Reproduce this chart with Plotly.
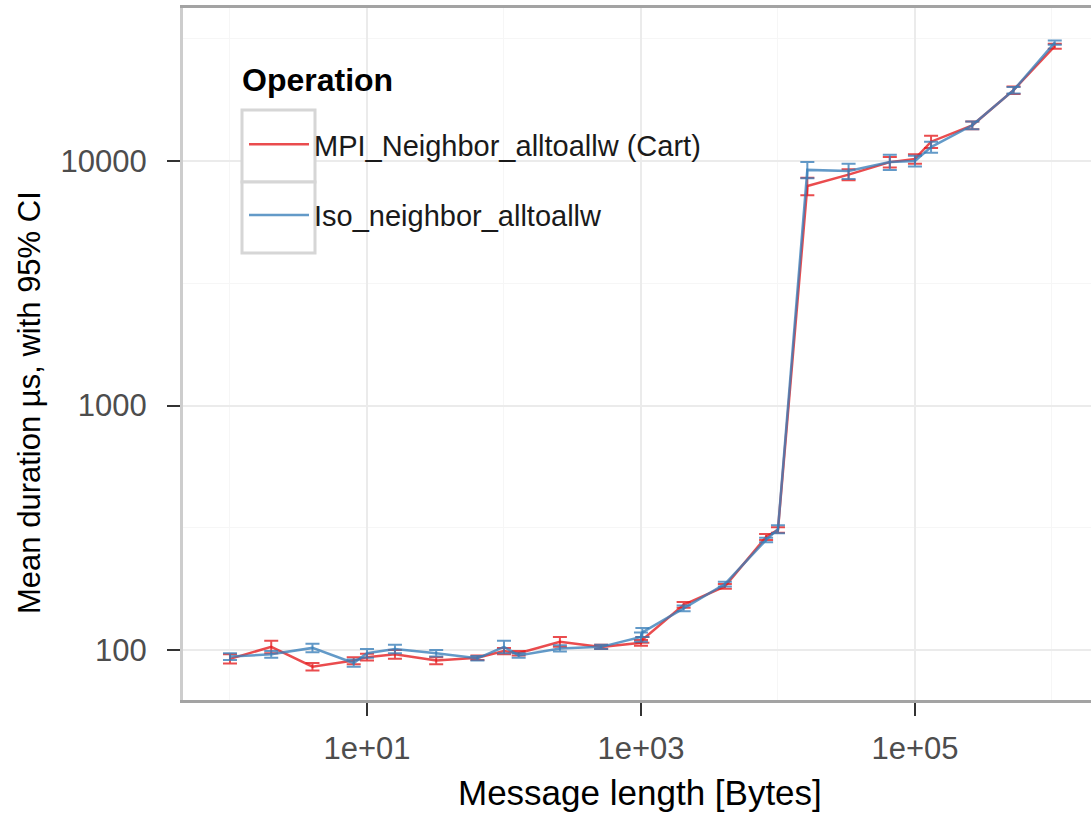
import plotly.graph_objects as go

# ---------------- data ----------------
msg_sizes = [1, 2, 4, 8, 10, 16, 32, 64, 100, 128, 256, 512, 1000, 1024, 2048, 4096,
             8192, 10000, 16384, 32768, 65536, 100000, 131072, 262144, 524288, 1048576]

cart_mean = [92, 103, 85.5, 90.5, 93.5, 96, 90.5, 93, 99, 97, 108, 103, 107, 110, 153, 182,
             290, 310, 7900, 8800, 9900, 10200, 12000, 14000, 19500, 29500]
cart_err = [4, 6, 3, 3, 3, 4, 3, 2, 3, 2, 5, 2, 3, 3, 4, 4,
            8, 8, 650, 450, 500, 450, 700, 500, 700, 700]

iso_mean = [94, 96, 102, 88.5, 97, 101, 97, 92.5, 103, 95, 101.5, 103, 113, 118, 148, 186,
            282, 312, 9200, 9100, 9900, 10000, 11400, 14000, 19500, 30500]
iso_err = [3, 3, 4, 3, 4, 4, 3, 2, 6, 2, 3, 2, 5, 5, 4, 4,
           6, 12, 700, 650, 700, 500, 600, 500, 600, 600]

series_names = ["MPI_Neighbor_alltoallw (Cart)", "Iso_neighbor_alltoallw"]
series_colors = ["rgba(228,26,28,0.78)", "rgba(55,126,184,0.78)"]

x_tickvals = [10, 1000, 100000]
x_ticktext = ["1e+01", "1e+03", "1e+05"]
x_minorvals = [1, 100, 10000, 1000000]
y_tickvals = [100, 1000, 10000]
y_ticktext = ["100", "1000", "10000"]
y_minorvals = [316.227766, 3162.27766, 31622.7766]

legend_title = "Operation"
x_title = "Message length [Bytes]"
y_title = "Mean duration µs, with 95% CI"

# ---------------- layout geometry ----------------
W, H = 1091, 815
L, R, T, B = 183, 0, 8, 115
PW, PH = W - L - R, H - T - B


def px(xp):
    return (xp - L) / PW


def py(yp):
    return (H - B - yp) / PH


FONT = "Liberation Sans, Arial, sans-serif"

fig = go.Figure()
for name, color, mean, err in [(series_names[0], series_colors[0], cart_mean, cart_err),
                               (series_names[1], series_colors[1], iso_mean, iso_err)]:
    fig.add_trace(go.Scatter(
        x=msg_sizes, y=mean, mode="lines", name=name, legendgroup=name,
        line=dict(color=color, width=2.5),
        error_y=dict(type="data", array=err, visible=True, color=color,
                     thickness=2, width=7),
    ))

axis_common = dict(
    type="log", showline=True, ticks="outside", ticklen=13, tickwidth=2,
    tickcolor="#333333", tickfont=dict(family=FONT, size=31, color="#4d4d4d"),
    showgrid=True, gridcolor="#ebebeb", gridwidth=2, zeroline=False,
)

fig.update_layout(
    width=W, height=H,
    margin=dict(l=L, r=R, t=T, b=B, pad=0),
    paper_bgcolor="white", plot_bgcolor="white",
    font=dict(family=FONT, color="black"),
    xaxis=dict(**axis_common, range=[-0.343, 6.285], tickvals=x_tickvals,
               ticktext=x_ticktext, linecolor="#a3a3a3", linewidth=3, mirror=True,
               ticklabelstandoff=6,
               minor=dict(tickvals=x_minorvals, showgrid=True, gridcolor="#f6f6f6",
                          gridwidth=1, ticks="")),
    yaxis=dict(**axis_common, range=[1.7955, 4.626], tickvals=y_tickvals,
               ticktext=y_ticktext, linecolor="#cdcdcd", linewidth=3,
               ticklabelstandoff=14,
               minor=dict(tickvals=y_minorvals, showgrid=True, gridcolor="#f6f6f6",
                          gridwidth=1, ticks="")),
    showlegend=True,
    legend=dict(x=px(244), y=py(119), xanchor="left", yanchor="top",
                bgcolor="rgba(0,0,0,0)", borderwidth=0,
                font=dict(family=FONT, size=29, color="#1a1a1a"),
                itemwidth=60, tracegroupgap=30, traceorder="grouped"),
)

# legend title
fig.add_annotation(text="<b>" + legend_title + "</b>", xref="paper", yref="paper",
                   x=px(240), y=py(80), xanchor="left", yanchor="middle",
                   showarrow=False, font=dict(family=FONT, size=32, color="black"))
# legend key boxes
for top, bot in [(110, 182), (182, 253)]:
    fig.add_shape(type="rect", xref="paper", yref="paper", x0=px(242), x1=px(315),
                  y0=py(bot), y1=py(top), line=dict(color="#d6d6d6", width=3),
                  fillcolor="white", layer="above")

# axis titles
fig.add_annotation(text=x_title, xref="paper", yref="paper", x=px(640), y=py(792),
                   xanchor="center", yanchor="middle", showarrow=False,
                   font=dict(family=FONT, size=35, color="black"))
fig.add_annotation(text=y_title, xref="paper", yref="paper", x=px(30), y=py(403),
                   xanchor="center", yanchor="middle", textangle=-90, showarrow=False,
                   font=dict(family=FONT, size=31, color="black"))

fig.write_html("out.html")
